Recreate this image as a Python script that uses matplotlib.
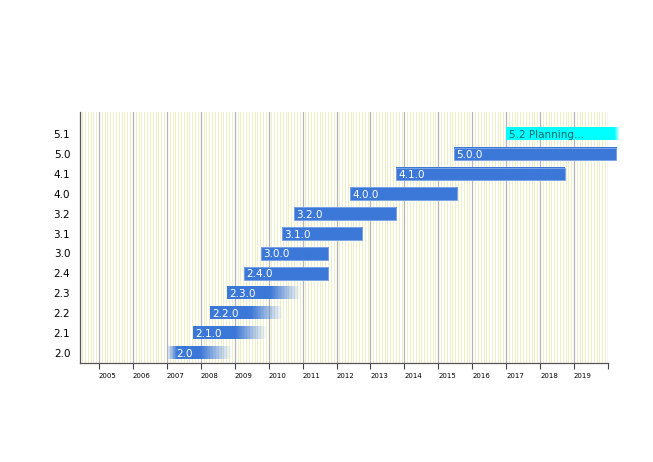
# Release timeline chart (versions 2.0 .. 5.1) with faded bar ends.
import numpy as np
import matplotlib.pyplot as plt
from matplotlib.ticker import MultipleLocator
from matplotlib.colors import to_rgb

rows = ["2.0", "2.1", "2.2", "2.3", "2.4", "3.0", "3.1", "3.2", "4.0", "4.1", "5.0", "5.1"]
bar_labels = ["2.0", "2.1.0", "2.2.0", "2.3.0", "2.4.0", "3.0.0", "3.1.0", "3.2.0",
              "4.0.0", "4.1.0", "5.0.0", "5.2 Planning..."]
starts = [2007.03, 2007.77, 2008.28, 2008.77, 2009.28, 2009.78, 2010.39, 2010.74,
          2012.40, 2013.76, 2015.47, 2017.00]
ends = [2008.90, 2009.95, 2010.43, 2010.95, 2011.76, 2011.76, 2012.76, 2013.76,
        2015.56, 2018.72, 2020.25, 2020.35]
# where the solid part stops and the fade-out begins (None = no fade)
fade_out = [2007.98, 2009.03, 2009.50, 2010.05, None, None, None, None,
            None, None, None, 2020.20]
# where the fade-in ends (None = hard start)
fade_in = [2007.29, None, None, None, None, None, None, None,
           None, None, None, None]
planning = [False] * 11 + [True]

years = list(range(2005, 2021))

fig = plt.figure(figsize=(6.53, 4.62), dpi=100)
ax = fig.add_axes([0.1225, 0.2143, 0.8085, 0.5433])

blue = "#3c78d8"
cyan = "#00ffff"
h = 0.62

for i, (lab, s, e) in enumerate(zip(bar_labels, starts, ends)):
    col = cyan if planning[i] else blue
    xs = np.linspace(s, e, 200)
    alpha = np.ones_like(xs)
    if fade_out[i] is not None:
        m = xs > fade_out[i]
        alpha[m] = 1 - (xs[m] - fade_out[i]) / (e - fade_out[i])
    if fade_in[i] is not None:
        m = xs < fade_in[i]
        alpha[m] = 0.15 + 0.85 * (xs[m] - s) / (fade_in[i] - s)
    rgba = np.zeros((1, len(xs), 4))
    rgba[..., :3] = to_rgb(col)
    rgba[..., 3] = np.clip(alpha, 0, 1)
    im = ax.imshow(rgba, extent=(s, e, i - h / 2, i + h / 2), aspect="auto",
                   interpolation="bilinear", zorder=3)
    im.set_clip_on(False)
    if fade_out[i] is None and fade_in[i] is None:
        ax.add_patch(plt.Rectangle((s, i - h / 2), e - s, h, fill=False,
                                   edgecolor="#7aa3e6", lw=0.7, zorder=4, clip_on=False))
    tx = s + 0.07 if fade_in[i] is None else fade_in[i] - 0.02
    ax.text(tx, i - 0.05, lab, color="#006666" if planning[i] else "white",
            fontsize=7.5, va="center", ha="left", zorder=5, clip_on=False)

ax.set_xlim(2004.44, 2020.0)
ax.set_ylim(-0.5, 12.1)

ax.set_xticks(years)
ax.set_xticklabels([str(y) if y < 2020 else "" for y in years], fontsize=5, ha="left")
ax.xaxis.set_minor_locator(MultipleLocator(1 / 12))
ax.grid(True, which="major", axis="x", color="#b4b4b4", lw=0.9, zorder=1)
ax.grid(True, which="minor", axis="x", color="#efefc4", lw=0.7, zorder=0)
ax.tick_params(axis="x", which="major", length=4, width=0.8, color="#444444", pad=3)
ax.tick_params(axis="x", which="minor", length=0)

ax.set_yticks(range(len(rows)))
ax.set_yticklabels(rows, fontsize=7.5)
ax.tick_params(axis="y", length=0, pad=7)

for side in ["top", "right"]:
    ax.spines[side].set_visible(False)
for side in ["left", "bottom"]:
    ax.spines[side].set_color("#555555")
    ax.spines[side].set_linewidth(0.9)

plt.savefig("out.png", dpi=100)
